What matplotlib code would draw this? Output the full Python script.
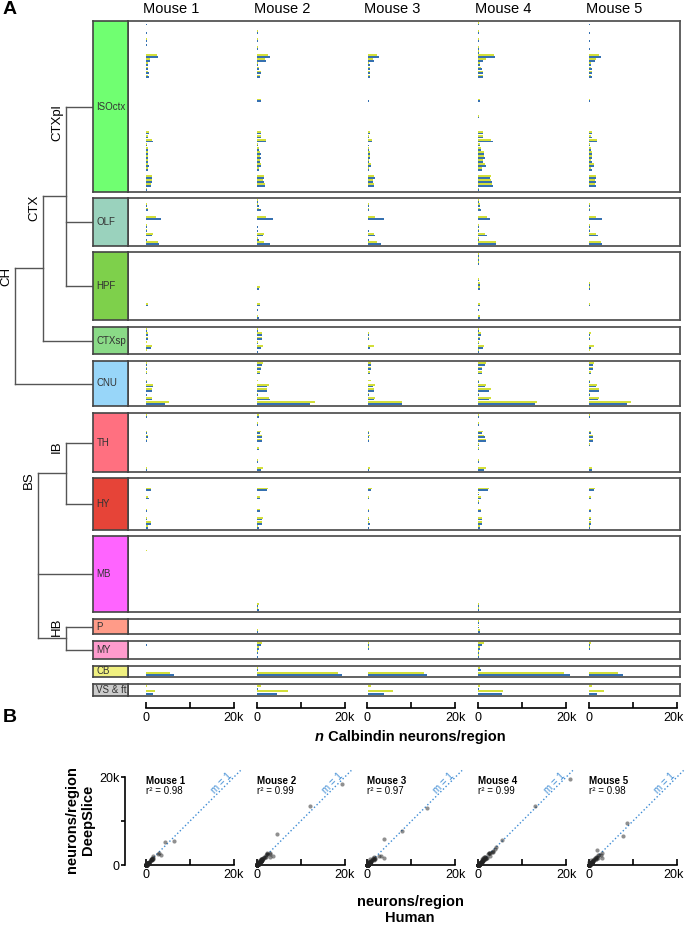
import numpy as np
import matplotlib.pyplot as plt
from matplotlib.transforms import ScaledTranslation

plt.rcParams['font.family'] = ['Liberation Sans', 'DejaVu Sans']

mice = ['Mouse 1', 'Mouse 2', 'Mouse 3', 'Mouse 4', 'Mouse 5']
r2_text = ['0.98', '0.99', '0.97', '0.99', '0.98']

regions = ['ISOctx', 'OLF', 'HPF', 'CTXsp', 'CNU', 'TH', 'HY', 'MB', 'P', 'MY', 'CB', 'VS & ft']
region_colors = ['#70ff71', '#9ad2bd', '#7ed04b', '#8ada87', '#98d6f9', '#ff7080',
                 '#e64438', '#ff64ff', '#ff9b88', '#ff9bcd', '#f0f080', '#cccccc']

# n calbindin neurons per sub-region, one list per mouse
isoctx_human = [
    [150, 0, 150, 0, 300, 150, 0, 0, 2800, 1000, 380, 450, 600, 600, 0, 0, 0, 0, 0, 0, 0, 100, 0, 100, 0, 0, 0, 760, 450, 1500, 230, 380, 530, 450, 530, 600, 380, 100, 1350, 1350, 1200, 150],
    [150, 0, 230, 0, 300, 0, 300, 0, 3000, 2000, 380, 600, 1050, 760, 0, 0, 0, 0, 0, 1050, 0, 0, 0, 150, 0, 0, 0, 900, 1000, 2050, 230, 600, 900, 900, 760, 1050, 450, 0, 1650, 1650, 1900, 150],
    [150, 0, 150, 0, 150, 0, 150, 0, 2650, 1500, 530, 600, 600, 530, 150, 0, 0, 0, 0, 230, 0, 0, 0, 0, 0, 0, 0, 600, 380, 1000, 230, 380, 530, 530, 380, 760, 380, 0, 1650, 1350, 1500, 100],
    [230, 0, 230, 0, 230, 0, 230, 230, 3800, 1150, 450, 760, 1150, 1150, 0, 0, 0, 0, 0, 380, 0, 0, 0, 230, 0, 0, 0, 1150, 1050, 3300, 380, 600, 1350, 1500, 1150, 1650, 900, 0, 2650, 3050, 3400, 150],
    [150, 0, 150, 0, 150, 0, 150, 0, 2700, 1350, 380, 600, 760, 600, 0, 0, 0, 0, 0, 230, 0, 0, 0, 0, 0, 0, 0, 760, 600, 1900, 230, 380, 760, 760, 600, 1150, 600, 0, 1650, 1500, 1500, 100]]
isoctx_deepslice = [
    [100, 0, 100, 0, 250, 100, 0, 0, 2500, 850, 350, 400, 550, 550, 0, 0, 0, 0, 0, 0, 0, 80, 0, 80, 0, 0, 0, 700, 400, 1450, 200, 350, 500, 420, 500, 560, 350, 80, 1300, 1250, 1150, 120],
    [120, 0, 200, 0, 250, 0, 250, 0, 2500, 1900, 350, 550, 950, 700, 0, 0, 0, 0, 0, 1050, 0, 0, 0, 120, 0, 0, 0, 950, 900, 2200, 200, 550, 850, 850, 700, 1000, 400, 0, 1750, 1500, 1800, 120],
    [100, 0, 100, 0, 100, 0, 100, 0, 2100, 1150, 450, 550, 550, 500, 100, 0, 0, 0, 0, 200, 0, 0, 0, 0, 0, 0, 0, 550, 350, 1100, 200, 350, 480, 500, 350, 700, 350, 0, 1550, 1300, 1400, 80],
    [200, 0, 200, 0, 200, 0, 200, 200, 3600, 1650, 400, 700, 1100, 1100, 0, 0, 0, 0, 0, 350, 0, 0, 0, 200, 0, 0, 0, 1100, 1000, 3000, 350, 550, 1300, 1400, 1100, 1600, 850, 0, 2800, 2900, 3200, 120],
    [100, 0, 100, 0, 100, 0, 100, 0, 2300, 1500, 350, 550, 700, 550, 0, 0, 0, 0, 0, 200, 0, 0, 0, 0, 0, 0, 0, 700, 550, 1850, 200, 350, 700, 700, 550, 1100, 550, 0, 1700, 1450, 1450, 80]]

olf_human = [
    [0, 200, 400, 0, 3500, 0, 200, 200, 1450, 150, 2900],
    [200, 400, 950, 0, 3750, 0, 200, 200, 1450, 400, 2900],
    [0, 400, 400, 0, 3750, 0, 100, 250, 1750, 250, 3050],
    [200, 400, 650, 0, 2700, 0, 200, 250, 2000, 200, 4000],
    [0, 200, 250, 0, 2900, 0, 200, 200, 2100, 100, 2900]]
olf_deepslice = [
    [0, 150, 350, 0, 2200, 0, 150, 150, 1500, 100, 2800],
    [250, 350, 600, 0, 2000, 0, 150, 150, 1600, 300, 1750],
    [0, 300, 300, 0, 1600, 0, 100, 200, 1450, 200, 2150],
    [200, 350, 400, 0, 2000, 0, 150, 200, 1600, 200, 4000],
    [0, 150, 200, 0, 1600, 0, 150, 150, 1600, 100, 2650]]

hpf_human = [
    [0, 0, 0, 0, 0, 0, 0, 100, 100, 0, 0, 0, 400, 100, 0, 100],
    [0, 100, 100, 100, 0, 0, 150, 0, 600, 0, 0, 0, 800, 200, 0, 400],
    [0, 0, 0, 0, 100, 0, 0, 200, 200, 0, 0, 0, 200, 0, 0, 100],
    [100, 100, 100, 0, 0, 0, 150, 450, 450, 0, 0, 0, 350, 100, 0, 300],
    [0, 100, 100, 0, 0, 0, 0, 300, 300, 0, 0, 0, 250, 0, 0, 100]]
hpf_deepslice = [
    [0, 0, 0, 0, 0, 0, 0, 80, 80, 0, 0, 0, 450, 80, 0, 80],
    [0, 150, 100, 100, 0, 0, 100, 0, 700, 0, 0, 0, 850, 150, 0, 200],
    [0, 0, 0, 0, 80, 0, 0, 200, 150, 0, 0, 0, 200, 0, 0, 100],
    [150, 150, 150, 0, 0, 0, 150, 400, 400, 0, 0, 0, 300, 0, 0, 350],
    [0, 100, 100, 0, 0, 0, 0, 300, 250, 0, 0, 0, 250, 0, 0, 80]]

ctxsp_human = [
    [200, 450, 450, 100, 1100, 100],
    [200, 1100, 1200, 200, 1000, 200],
    [0, 350, 300, 150, 650, 80],
    [100, 600, 450, 100, 1100, 100],
    [0, 300, 250, 100, 500, 100]]
ctxsp_deepslice = [
    [200, 500, 500, 150, 1400, 150],
    [250, 1300, 1200, 200, 1400, 150],
    [0, 400, 400, 100, 1400, 100],
    [150, 700, 500, 100, 1300, 100],
    [0, 350, 250, 100, 1100, 150]]

cnu_human = [
    [300, 300, 250, 0, 150, 1600, 1450, 150, 1450, 4400],
    [1200, 950, 800, 0, 150, 2400, 2250, 250, 3000, 12200],
    [800, 800, 650, 0, 150, 1200, 1450, 400, 1450, 7750],
    [1600, 950, 800, 0, 150, 1600, 2550, 250, 2400, 12800],
    [950, 800, 500, 0, 150, 1600, 2250, 250, 2000, 8600]]
cnu_deepslice = [
    [300, 300, 200, 0, 150, 1600, 1450, 100, 1300, 5300],
    [1350, 950, 800, 0, 250, 2800, 2400, 200, 2800, 13300],
    [800, 800, 650, 0, 800, 1600, 1450, 400, 1750, 7800],
    [1750, 950, 800, 0, 150, 1750, 2800, 200, 2800, 13400],
    [1100, 800, 500, 0, 150, 1750, 2250, 200, 2250, 9600]]

th_human = [
    [250, 0, 100, 0, 250, 350, 300, 0, 100, 0, 0, 100, 0, 250],
    [450, 0, 250, 0, 800, 1150, 1200, 100, 450, 0, 0, 250, 0, 950],
    [150, 0, 150, 0, 250, 450, 300, 0, 80, 0, 0, 0, 0, 400],
    [250, 0, 250, 0, 950, 1450, 1750, 200, 200, 0, 0, 100, 0, 1300],
    [300, 0, 100, 0, 400, 800, 800, 200, 100, 0, 0, 0, 0, 650]]
th_deepslice = [
    [200, 0, 80, 0, 200, 350, 250, 0, 80, 0, 0, 80, 0, 300],
    [500, 0, 200, 0, 900, 1200, 1150, 100, 400, 0, 0, 200, 0, 1450],
    [150, 0, 150, 0, 250, 500, 400, 0, 80, 0, 0, 0, 0, 600],
    [200, 0, 200, 0, 1000, 1400, 1700, 200, 200, 0, 0, 80, 0, 1750],
    [250, 0, 100, 0, 500, 850, 800, 150, 80, 0, 0, 0, 0, 650]]

hy_human = [
    [0, 0, 1100, 100, 650, 80, 0, 250, 100, 250, 1150, 400],
    [0, 0, 2400, 150, 800, 80, 0, 800, 0, 1200, 1200, 400],
    [0, 0, 800, 100, 400, 80, 0, 450, 0, 450, 550, 250],
    [0, 0, 2250, 100, 650, 100, 0, 650, 0, 800, 800, 400],
    [0, 0, 1200, 100, 500, 80, 0, 450, 0, 500, 500, 200]]
hy_deepslice = [
    [0, 0, 1100, 80, 400, 80, 0, 200, 80, 200, 1100, 350],
    [0, 0, 2450, 100, 700, 80, 0, 750, 0, 1450, 1100, 300],
    [0, 0, 1000, 100, 350, 80, 0, 400, 0, 450, 450, 200],
    [0, 0, 2400, 100, 550, 80, 0, 600, 0, 800, 750, 350],
    [0, 0, 1450, 100, 450, 80, 0, 400, 0, 450, 450, 200]]

mb_human = [
    [0, 0, 0, 100, 80, 0, 0, 0, 0, 0, 0, 0, 0, 0, 0, 0, 80, 0],
    [80, 0, 0, 0, 0, 0, 0, 0, 0, 0, 0, 0, 0, 0, 0, 100, 250, 400],
    [0, 0, 0, 0, 0, 0, 0, 0, 0, 0, 0, 0, 0, 0, 0, 0, 100, 0],
    [0, 0, 0, 0, 0, 0, 0, 0, 0, 0, 0, 0, 0, 0, 0, 0, 150, 100],
    [0, 0, 0, 0, 0, 0, 0, 0, 0, 0, 0, 0, 0, 0, 0, 0, 80, 0]]
mb_deepslice = [
    [0, 0, 0, 150, 100, 0, 0, 0, 0, 0, 0, 0, 0, 0, 0, 0, 80, 0],
    [100, 0, 0, 0, 0, 0, 0, 0, 0, 0, 0, 0, 0, 0, 0, 150, 400, 250],
    [0, 0, 0, 0, 0, 0, 0, 0, 0, 0, 0, 0, 0, 0, 0, 0, 80, 0],
    [0, 0, 0, 0, 0, 0, 0, 0, 0, 0, 0, 0, 0, 0, 0, 0, 120, 80],
    [0, 0, 0, 0, 0, 0, 0, 0, 0, 0, 0, 0, 0, 0, 0, 0, 60, 0]]

p_human = [[60, 60, 60], [100, 150, 350], [80, 80, 200], [80, 100, 500], [60, 60, 100]]
p_deepslice = [[50, 50, 50], [150, 150, 200], [80, 80, 150], [80, 100, 300], [50, 50, 80]]

my_human = [[150, 100, 80, 0], [900, 600, 300, 200], [300, 400, 80, 0], [900, 350, 200, 100], [300, 150, 80, 0]]
my_deepslice = [[100, 80, 80, 0], [1150, 450, 350, 150], [400, 250, 80, 0], [1300, 300, 200, 80], [500, 150, 80, 0]]

cb_human = [[100, 6300], [300, 19300], [100, 13500], [600, 20900], [100, 7800]]
cb_deepslice = [[100, 5500], [250, 18400], [100, 12900], [400, 19600], [100, 6700]]

vs_human = [[50, 1700], [300, 4700], [100, 3800], [100, 5500], [100, 1900]]
vs_deepslice = [[250, 2100], [900, 7000], [750, 5900], [400, 5700], [600, 3300]]

human_counts = [isoctx_human, olf_human, hpf_human, ctxsp_human, cnu_human, th_human,
                hy_human, mb_human, p_human, my_human, cb_human, vs_human]
deepslice_counts = [isoctx_deepslice, olf_deepslice, hpf_deepslice, ctxsp_deepslice,
                    cnu_deepslice, th_deepslice, hy_deepslice, mb_deepslice, p_deepslice,
                    my_deepslice, cb_deepslice, vs_deepslice]

ds_color = '#d3df3a'
hu_color = '#3570b0'

# layout, in pixels from the top-left
W, H = 685, 925
row_top = [21, 198, 252, 327, 361, 413, 478, 536, 619, 641, 666, 684]
row_bot = [192, 246, 320, 354, 406, 472, 530, 612, 634, 659, 677, 696]
col0, col_step, col_w = 146, 110.75, 88      # col_w pixels = 20k neurons


def rect(x0, y0, x1, y1):
    return [x0 / W, 1 - y1 / H, (x1 - x0) / W, (y1 - y0) / H]


def px2n(p):
    return (p - col0) / col_w * 20000


def scale_axis(a, last):
    a.set_xlim(0, 20000)
    a.set_xticks([0, 10000, 20000], ['0', '', '20k'])
    a.tick_params(axis='x', direction='in', length=4, width=1.2, labelsize=9, pad=3)
    a.spines['bottom'].set_linewidth(1.2)
    if last:
        # keep the right-most "20k" inside the figure
        lbl = a.get_xticklabels()[-1]
        lbl.set_transform(lbl.get_transform() + ScaledTranslation(-0.035, 0, fig.dpi_scale_trans))


offsets = [px2n(col0 + i * col_step) for i in range(5)]

fig = plt.figure(figsize=(W / 100, H / 100), dpi=100)

# overlay for free text and the region tree
ov = fig.add_axes([0, 0, 1, 1])
ov.set_xlim(0, W)
ov.set_ylim(H, 0)
ov.axis('off')

######## panel A rows
for r, name in enumerate(regions):
    n = len(human_counts[r][0])
    ax = fig.add_axes(rect(128, row_top[r], 680, row_bot[r]))
    y = np.arange(n)
    for m in range(5):
        ax.barh(y - 0.21, deepslice_counts[r][m], left=offsets[m], height=0.4,
                color=ds_color, linewidth=0)
        ax.barh(y + 0.21, human_counts[r][m], left=offsets[m], height=0.4,
                color=hu_color, linewidth=0)
    ax.set_xlim(px2n(128), px2n(680))
    ax.set_ylim(n - 0.3, -0.7)
    ax.set_xticks([])
    ax.set_yticks([])
    for s in ax.spines.values():
        s.set_color('#555555')
        s.set_linewidth(1.3)

    lab = fig.add_axes(rect(93, row_top[r], 128, row_bot[r]))
    lab.set_facecolor(region_colors[r])
    lab.set_xticks([])
    lab.set_yticks([])
    for s in lab.spines.values():
        s.set_color('#444444')
        s.set_linewidth(1.2)
    lab.text(0.1, 0.5, name, transform=lab.transAxes, fontsize=7, va='center',
             ha='left', color='#333333')

# region tree
mid = {name: (row_top[i] + row_bot[i]) / 2 for i, name in enumerate(regions)}
node_x = {name: 93 for name in regions}
tree = [('CTXpl', 66, ['ISOctx', 'OLF', 'HPF']), ('CTX', 43, ['CTXpl', 'CTXsp']),
        ('CH', 15, ['CTX', 'CNU']), ('IB', 66, ['TH', 'HY']), ('HB', 66, ['P', 'MY']),
        ('BS', 38, ['IB', 'MB', 'HB'])]
for label, x, kids in tree:
    ys = [mid[k] for k in kids]
    ov.plot([x, x], [min(ys), max(ys)], color='#555555', lw=1)
    for k in kids:
        ov.plot([x, node_x[k]], [mid[k], mid[k]], color='#555555', lw=1)
    mid[label] = (min(ys) + max(ys)) / 2
    node_x[label] = x
    if max(ys) - min(ys) < 30:
        # short branch: keep the label clear of the parent link
        ov.text(x - 9, mid[label] - 2, label, rotation=90, ha='center', va='bottom',
                fontsize=9.5)
    else:
        ov.text(x - 9, min(ys) - 2, label, rotation=90, ha='center', va='top',
                fontsize=9.5)

# column titles, legend, bottom scale
for m in range(5):
    ov.text(col0 + m * col_step - 3, 9, mice[m], fontsize=10.5, ha='left', va='center')
ov.text(673, 31, 'DeepSlice', color=ds_color, fontweight='bold', fontsize=9,
        ha='right', va='center')
ov.text(673, 46, 'Human', color=hu_color, fontweight='bold', fontsize=9,
        ha='right', va='center')

for m in range(5):
    x0 = col0 + m * col_step
    bax = fig.add_axes(rect(x0, 700, x0 + col_w, 708))
    bax.patch.set_alpha(0)
    for side in ['top', 'left', 'right']:
        bax.spines[side].set_visible(False)
    bax.set_yticks([])
    scale_axis(bax, m == 4)

t_n = ov.text(315, 741, 'n', fontweight='bold', fontstyle='italic', fontsize=10.5,
              ha='left', va='baseline')
ov.annotate(' Calbindin neurons/region', xy=(1, 0), xycoords=t_n, ha='left',
            va='bottom', fontweight='bold', fontsize=10.5)

######## panel B scatter
for m in range(5):
    x0 = col0 + m * col_step
    sax = fig.add_axes(rect(x0, 777, x0 + col_w, 865))
    sax.patch.set_alpha(0)
    hum = np.concatenate([np.array(human_counts[r][m]) for r in range(len(regions))])
    dsl = np.concatenate([np.array(deepslice_counts[r][m]) for r in range(len(regions))])
    sax.plot([0, 21500], [0, 21500], ls=':', color='#3d8bd4', lw=1, clip_on=False)
    sax.scatter(hum, dsl, s=9, color='#222222', alpha=0.5, linewidths=0,
                clip_on=False, zorder=3)
    sax.set_ylim(0, 20000)
    sax.spines['top'].set_visible(False)
    sax.spines['right'].set_visible(False)
    scale_axis(sax, m == 4)
    if m == 0:
        sax.spines['left'].set_position(('outward', 15))
        sax.spines['left'].set_linewidth(1.2)
        sax.set_yticks([0, 10000, 20000], ['0', '', '20k'])
        sax.tick_params(axis='y', direction='out', length=3, width=1.2, labelsize=9, pad=1)
    else:
        sax.spines['left'].set_visible(False)
        sax.set_yticks([])
    sax.text(0, 0.955, mice[m], transform=sax.transAxes, fontweight='bold', fontsize=7,
             ha='left', va='center')
    sax.text(0, 0.84, 'r\u00b2 = ' + r2_text[m], transform=sax.transAxes, fontsize=7,
             ha='left', va='center')
    sax.text(17300, 18700, 'm = 1', rotation=45, color='#3d8bd4', fontsize=7,
             ha='center', va='center')

ov.text(80, 820, 'neurons/region\nDeepSlice', rotation=90, ha='center', va='center',
        fontweight='bold', fontsize=10.5, linespacing=1.1)
ov.text(410, 910, 'neurons/region\nHuman', ha='center', va='center',
        fontweight='bold', fontsize=10.5, linespacing=1.1)

ov.text(3, 9, 'A', fontweight='bold', fontsize=14, ha='left', va='center')
ov.text(3, 718, 'B', fontweight='bold', fontsize=14, ha='left', va='center')

fig.savefig('out.png', dpi=100)
